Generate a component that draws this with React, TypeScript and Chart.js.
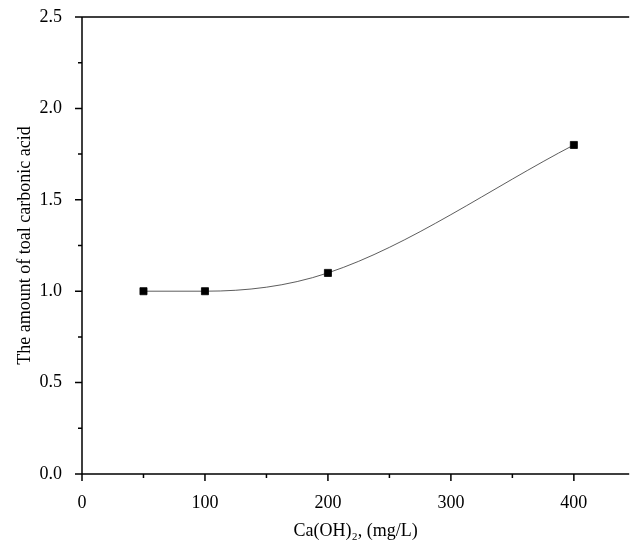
import React, { useEffect, useRef } from "react";
import { Chart, registerables } from "chart.js";

Chart.register(...registerables);

const doses = [50, 100, 200, 400];
const carbonic = [1.0, 1.0, 1.1, 1.8];
const xTicks = [0, 100, 200, 300, 400];
const yTicks = [0, 0.5, 1.0, 1.5, 2.0, 2.5];

const axisPlugin = {
  id: "axisLines",
  afterDraw(chart: any) {
    const { ctx, chartArea: a, scales } = chart;
    const x = scales.x;
    const y = scales.y;
    ctx.save();
    ctx.strokeStyle = "#000";
    ctx.lineWidth = 1.5;
    ctx.beginPath();
    ctx.moveTo(a.left, a.top);
    ctx.lineTo(a.right, a.top);
    ctx.moveTo(a.left, a.top);
    ctx.lineTo(a.left, a.bottom);
    ctx.lineTo(a.right, a.bottom);
    for (let v = 0; v <= 400; v += 50) {
      const px = x.getPixelForValue(v);
      const len = v % 100 === 0 ? 7 : 4;
      ctx.moveTo(px, a.bottom);
      ctx.lineTo(px, a.bottom + len);
    }
    for (let v = 0; v <= 2.5001; v += 0.25) {
      const py = y.getPixelForValue(v);
      const len = Math.round(v * 100) % 50 === 0 ? 7 : 4;
      ctx.moveTo(a.left, py);
      ctx.lineTo(a.left - len, py);
    }
    ctx.stroke();
    ctx.restore();
  },
};

const App: React.FC = () => {
  const canvasRef = useRef<HTMLCanvasElement>(null);

  useEffect(() => {
    document.body.style.margin = "0";
    if (!canvasRef.current) return;
    const font = { family: "'Liberation Serif', 'Times New Roman', serif", size: 18 };
    const chart = new Chart(canvasRef.current, {
      type: "line",
      data: {
        labels: doses,
        datasets: [
          {
            data: doses.map((d, i) => ({ x: d, y: carbonic[i] })),
            borderColor: "#333",
            borderWidth: 0.8,
            cubicInterpolationMode: "monotone",
            pointStyle: "rect",
            pointRadius: 5,
            pointBackgroundColor: "#000",
            pointBorderColor: "#000",
          },
        ],
      },
      options: {
        animation: false,
        responsive: false,
        layout: { padding: { top: 17, right: -6 } },
        plugins: { legend: { display: false }, tooltip: { enabled: false } },
        scales: {
          x: {
            type: "linear",
            min: 0,
            max: 445,
            afterBuildTicks: (s: any) => {
              s.ticks = xTicks.map((v) => ({ value: v }));
            },
            afterFit: (s: any) => {
              s.height = 72;
            },
            grid: { display: false },
            border: { display: false },
            ticks: { color: "#000", font, padding: 10, maxRotation: 0 },
            title: { display: true, text: "Ca(OH)₂, (mg/L)", color: "#000", font, padding: { top: 14 } },
          },
          y: {
            min: 0,
            max: 2.5,
            afterBuildTicks: (s: any) => {
              s.ticks = yTicks.map((v) => ({ value: v }));
            },
            afterFit: (s: any) => {
              s.width = 82;
              s.paddingTop = 0;
            },
            grid: { display: false },
            border: { display: false },
            ticks: { color: "#000", font, padding: 12, callback: (v: any) => Number(v).toFixed(1) },
            title: { display: true, text: "The amount of toal carbonic acid", color: "#000", font, padding: { top: 14, bottom: 0 } },
          },
        },
      },
      plugins: [axisPlugin],
    } as any);
    return () => chart.destroy();
  }, []);

  return <canvas ref={canvasRef} width={635} height={546} />;
};

export default App;
